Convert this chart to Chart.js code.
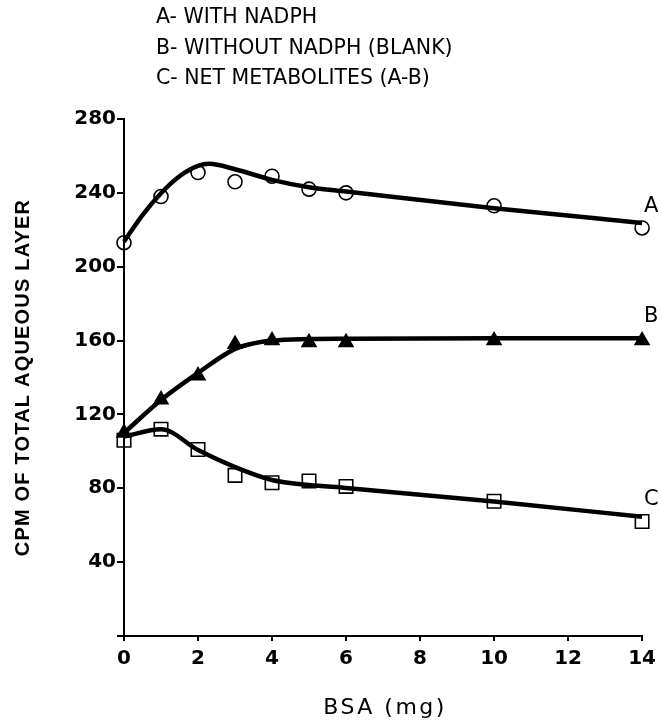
<!DOCTYPE html>
<html>
<head>
<meta charset="utf-8">
<script src="https://cdn.jsdelivr.net/npm/chart.js@4.4.0/dist/chart.umd.min.js"></script>
<style>
  body { margin: 0; background: #fff; }
  canvas { display: block; }
</style>
</head>
<body>
<canvas id="chartCanvas" width="662" height="721"></canvas>
<script>
// measured points
const bsa = [0, 1, 2, 3, 4, 5, 6, 10, 14];
const withNadph = [213, 238, 251, 246, 249, 242, 240, 233, 221];
const withoutNadph = [110, 128, 141, 158, 160, 159, 159, 160, 160];
const netMetabolites = [106, 112, 101, 87, 83, 84, 81, 73, 62];

// hand drawn fitted curves
const curveAx = [0, 0.5, 1, 1.5, 2, 2.3, 3, 4, 5, 6, 10, 14];
const curveAy = [213.6, 228, 239.8, 249, 254.6, 255.7, 252.8, 247, 243, 240.7, 231.7, 223.7];
const curveBx = [0, 1, 2, 3, 3.5, 4, 5, 6, 10, 14];
const curveBy = [110, 127.8, 142.5, 155.5, 158.5, 160, 160.8, 161, 161.3, 161.3];
const curveCx = [0, 1, 2, 3, 4, 5, 6, 10, 14];
const curveCy = [108, 112, 100.7, 91.5, 84.5, 81.8, 80.2, 72.8, 64.6];

const seriesLetters = ['A', 'B', 'C'];
const headerLines = ['A- WITH NADPH', 'B- WITHOUT NADPH (BLANK)', 'C- NET METABOLITES (A-B)'];
const xTitle = 'BSA (mg)';
const yTitle = 'CPM OF TOTAL AQUEOUS LAYER';

function pts(xs, ys) {
  return xs.map((x, i) => ({ x: x, y: ys[i] }));
}

function curve(xs, ys) {
  return {
    data: pts(xs, ys),
    showLine: true,
    borderColor: '#000',
    borderWidth: 4.5,
    pointRadius: 0,
    tension: 0.4,
    cubicInterpolationMode: 'monotone',
    clip: false
  };
}

function marks(ys, style, radius, fill) {
  return {
    data: pts(bsa, ys),
    showLine: false,
    pointStyle: style,
    pointRadius: radius,
    pointBorderWidth: 1.6,
    pointBorderColor: '#000',
    pointBackgroundColor: fill,
    clip: false
  };
}

// text the library does not letter-space for us
const textPlugin = {
  id: 'textPlugin',
  afterDraw(chart) {
    const ctx = chart.ctx;
    const area = chart.chartArea;
    const xs = chart.scales.x;
    const ys = chart.scales.y;
    ctx.save();
    ctx.fillStyle = '#000';
    ctx.textBaseline = 'middle';

    ctx.font = '20.5px "DejaVu Sans"';
    ctx.letterSpacing = '0px';
    ctx.textAlign = 'left';
    headerLines.forEach((t, i) => ctx.fillText(t, 156, 18 + i * 30.5));

    // end labels next to each curve
    const ends = [curveAy, curveBy, curveCy];
    const lift = [16, 22, 17];
    ctx.font = '21px "DejaVu Sans"';
    seriesLetters.forEach((s, i) => {
      const yv = ends[i][ends[i].length - 1];
      ctx.fillText(s, xs.getPixelForValue(14) + 2, ys.getPixelForValue(yv) - lift[i]);
    });

    ctx.font = '22px "DejaVu Sans"';
    ctx.letterSpacing = '2.5px';
    ctx.textAlign = 'center';
    ctx.fillText(xTitle, (area.left + area.right) / 2 + 2, 708);

    ctx.font = 'bold 20px "Liberation Sans"';
    ctx.letterSpacing = '1.2px';
    ctx.translate(23, (area.top + area.bottom) / 2);
    ctx.rotate(-Math.PI / 2);
    ctx.fillText(yTitle, 0, 0);
    ctx.restore();
  }
};

const tickFont = { family: 'DejaVu Sans', size: 20, weight: 'bold' };

new Chart(document.getElementById('chartCanvas'), {
  type: 'scatter',
  data: {
    datasets: [
      curve(curveAx, curveAy),
      curve(curveBx, curveBy),
      curve(curveCx, curveCy),
      marks(withNadph, 'circle', 7, 'rgba(0,0,0,0)'),
      marks(withoutNadph, 'triangle', 8, '#000'),
      marks(netMetabolites, 'rect', 9.5, 'rgba(0,0,0,0)')
    ]
  },
  options: {
    responsive: false,
    animation: false,
    devicePixelRatio: 1,
    layout: { padding: { top: 119, right: 17, bottom: 0, left: 0 } },
    plugins: {
      legend: { display: false },
      tooltip: { enabled: false }
    },
    scales: {
      x: {
        type: 'linear',
        min: 0,
        max: 14,
        afterFit: s => { s.height = 85; },
        ticks: { stepSize: 2, color: '#000', font: tickFont, padding: 6, maxRotation: 0 },
        grid: { drawOnChartArea: false, color: '#000', tickLength: 5, lineWidth: 2 },
        border: { color: '#000', width: 2 }
      },
      y: {
        min: 0,
        max: 280,
        afterFit: s => { s.width = 124; },
        ticks: {
          stepSize: 40,
          color: '#000',
          font: tickFont,
          padding: 1,
          callback: v => (v === 0 ? '' : v)
        },
        grid: { drawOnChartArea: false, color: '#000', tickLength: 7, lineWidth: 2 },
        border: { color: '#000', width: 2 }
      }
    }
  },
  plugins: [textPlugin]
});
</script>
</body>
</html>
